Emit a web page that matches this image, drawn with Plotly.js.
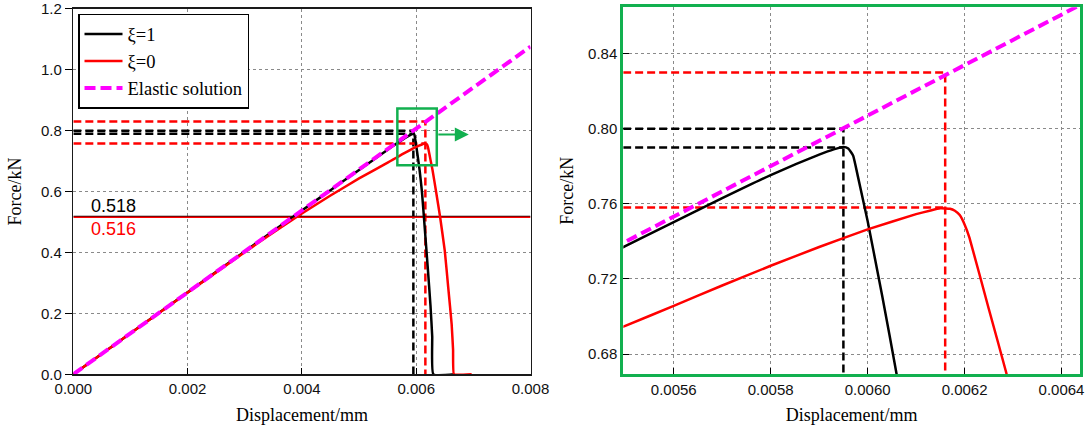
<!DOCTYPE html>
<html>
<head>
<meta charset="utf-8">
<script src="https://cdn.plot.ly/plotly-3.0.1.min.js"></script>
<style>html,body{margin:0;padding:0;background:#fff;}#chart{width:1088px;height:432px;}</style>
</head>
<body>
<div id="chart"></div>
<script>
// ---- data ----
const dispXi1 = [0, 0.001, 0.002, 0.003, 0.004, 0.0045, 0.005, 0.0055, 0.0056, 0.0057, 0.0058, 0.0059, 0.00593, 0.00595, 0.00596, 0.00597, 0.00598, 0.0060, 0.00603, 0.00606, 0.0061, 0.00615, 0.0062, 0.00625, 0.00628, 0.0063, 0.00667];
const forceXi1 = [0, 0.1345, 0.269, 0.4035, 0.538, 0.6045, 0.671, 0.7375, 0.7502, 0.763, 0.7753, 0.7862, 0.789, 0.7903, 0.7895, 0.7858, 0.7745, 0.7508, 0.711, 0.669, 0.600, 0.478, 0.355, 0.225, 0.125, 0.0, 0.0];

const dispXi0 = [0, 0.001, 0.002, 0.003, 0.0035, 0.004, 0.0045, 0.005, 0.0055, 0.0056, 0.0057, 0.0058, 0.0059, 0.0060, 0.0061, 0.00613, 0.00615, 0.00617, 0.00618, 0.00619, 0.0062, 0.00621, 0.00625, 0.006286, 0.00635, 0.006417, 0.0065, 0.00656, 0.00662, 0.006645, 0.00666, 0.00697];
const forceXi0 = [0, 0.1345, 0.2685, 0.401, 0.466, 0.528, 0.587, 0.643, 0.695, 0.7056, 0.7165, 0.727, 0.737, 0.7464, 0.7545, 0.7565, 0.7576, 0.7574, 0.7563, 0.754, 0.749, 0.742, 0.704, 0.670, 0.597, 0.518, 0.405, 0.285, 0.165, 0.08, 0.0, 0.0];

const dispElastic = [0, 0.008];
const forceElastic = [0, 1.076];

// initiation loads
const initLabels = ['0.518', '0.516'];
const initForce = [0.518, 0.516];
const initDispSpan = [0, 0.008];

// peak reference values: [displacement at peak, peak force, elastic force at that displacement]
const peakXi1 = [0.00595, 0.790, 0.800];
const peakXi0 = [0.00616, 0.758, 0.830];

// axis ticks
const leftXTicks = [0, 0.002, 0.004, 0.006, 0.008];
const leftXText = ['0.000', '0.002', '0.004', '0.006', '0.008'];
const leftYTicks = [0, 0.2, 0.4, 0.6, 0.8, 1.0, 1.2];
const leftYText = ['0.0', '0.2', '0.4', '0.6', '0.8', '1.0', '1.2'];
const rightXTicks = [0.0056, 0.0058, 0.0060, 0.0062, 0.0064];
const rightXText = ['0.0056', '0.0058', '0.0060', '0.0062', '0.0064'];
const rightYTicks = [0.68, 0.72, 0.76, 0.80, 0.84];
const rightYText = ['0.68', '0.72', '0.76', '0.80', '0.84'];

const seriesNames = ['\u03BE=1', '\u03BE=0', 'Elastic solution'];

// ---- styling ----
const SANS = 'Liberation Sans, Arial, sans-serif';
const SERIF = 'Liberation Serif, Times New Roman, serif';
const GREEN = '#12b04f';
const BLACK = '#000000';
const RED = '#ff0000';
const MAGENTA = '#ff00ff';
const refDash = '8px,4px';

function refTraces(xa, ya) {
  return [
    {x: [0, peakXi1[0], peakXi1[0]], y: [peakXi1[2], peakXi1[2], 0], xaxis: xa, yaxis: ya, mode: 'lines', line: {color: BLACK, width: 2.5, dash: refDash}, showlegend: false, hoverinfo: 'skip'},
    {x: [0, peakXi1[0]], y: [peakXi1[1], peakXi1[1]], xaxis: xa, yaxis: ya, mode: 'lines', line: {color: BLACK, width: 2.5, dash: refDash}, showlegend: false, hoverinfo: 'skip'},
    {x: [0, peakXi0[0], peakXi0[0]], y: [peakXi0[2], peakXi0[2], 0], xaxis: xa, yaxis: ya, mode: 'lines', line: {color: RED, width: 2.5, dash: refDash}, showlegend: false, hoverinfo: 'skip'},
    {x: [0, peakXi0[0]], y: [peakXi0[1], peakXi0[1]], xaxis: xa, yaxis: ya, mode: 'lines', line: {color: RED, width: 2.5, dash: refDash}, showlegend: false, hoverinfo: 'skip'}
  ];
}

function curveTraces(xa, ya, legend) {
  return [
    {x: dispXi1, y: forceXi1, xaxis: xa, yaxis: ya, mode: 'lines', name: seriesNames[0], line: {color: BLACK, width: 2.5, shape: 'spline', smoothing: 0.4}, showlegend: legend, legendgroup: 'a'},
    {x: dispXi0, y: forceXi0, xaxis: xa, yaxis: ya, mode: 'lines', name: seriesNames[1], line: {color: RED, width: 2.5, shape: 'spline', smoothing: 0.3}, showlegend: legend, legendgroup: 'b'},
    {x: dispElastic, y: forceElastic, xaxis: xa, yaxis: ya, mode: 'lines', name: seriesNames[2], line: {color: MAGENTA, width: 4, dash: '11px,5px'}, showlegend: legend, legendgroup: 'c'}
  ];
}

const initTraces = [
  {x: initDispSpan, y: [initForce[0], initForce[0]], xaxis: 'x', yaxis: 'y', mode: 'lines', line: {color: BLACK, width: 1.5}, showlegend: false, hoverinfo: 'skip'},
  {x: initDispSpan, y: [initForce[1], initForce[1]], xaxis: 'x', yaxis: 'y', mode: 'lines', line: {color: RED, width: 1.5}, showlegend: false, hoverinfo: 'skip'}
];

const data = [].concat(
  refTraces('x', 'y'),
  initTraces,
  curveTraces('x', 'y', true),
  refTraces('x2', 'y2'),
  curveTraces('x2', 'y2', false)
);

const commonAxis = {
  showgrid: true, gridcolor: '#8a8a8a', griddash: '3px,3px', gridwidth: 1,
  zeroline: false, showline: true, mirror: true,
  tickcolor: BLACK, tickfont: {family: SANS, size: 15, color: '#111'},
  tickmode: 'array'
};

const layout = {
  width: 1088, height: 432,
  margin: {l: 0, r: 0, t: 0, b: 0},
  paper_bgcolor: '#ffffff', plot_bgcolor: '#ffffff',
  showlegend: true,
  legend: {
    x: 0.0717, y: 0.9676, xanchor: 'left', yanchor: 'top',
    bgcolor: '#ffffff', bordercolor: BLACK, borderwidth: 1.5,
    font: {family: SERIF, size: 18.5, color: BLACK},
    tracegroupgap: 0, itemwidth: 38
  },
  xaxis: Object.assign({}, commonAxis, {
    domain: [0.0674, 0.4876], range: [0, 0.008], anchor: 'y',
    tickvals: leftXTicks, ticktext: leftXText,
    ticks: 'inside', ticklen: 6, linecolor: '#1a1a1a', linewidth: 1.5,
    title: {text: 'Displacement/mm', font: {family: SERIF, size: 18, color: BLACK}, standoff: 12}
  }),
  yaxis: Object.assign({}, commonAxis, {
    domain: [0.1336, 0.9796], range: [0, 1.2], anchor: 'x',
    tickvals: leftYTicks, ticktext: leftYText,
    ticks: 'outside', ticklen: 7, linecolor: '#1a1a1a', linewidth: 1.5,
    title: {text: 'Force/kN', font: {family: SERIF, size: 18, color: BLACK}, standoff: 14}
  }),
  xaxis2: Object.assign({}, commonAxis, {
    domain: [0.5729, 0.9926], range: [0.005496, 0.006438], anchor: 'y2',
    tickvals: rightXTicks, ticktext: rightXText,
    ticks: 'inside', ticklen: 6, linecolor: GREEN, linewidth: 3,
    title: {text: 'Displacement/mm', font: {family: SERIF, size: 18, color: BLACK}, standoff: 12}
  }),
  yaxis2: Object.assign({}, commonAxis, {
    domain: [0.1336, 0.9831], range: [0.6692, 0.8647], anchor: 'x2',
    tickvals: rightYTicks, ticktext: rightYText,
    ticks: 'inside', ticklen: 6, linecolor: GREEN, linewidth: 3,
    title: {text: 'Force/kN', font: {family: SERIF, size: 18, color: BLACK}, standoff: 10}
  }),
  shapes: [
    {type: 'rect', xref: 'x', yref: 'y', x0: 0.00567, x1: 0.00636, y0: 0.686, y1: 0.873, line: {color: GREEN, width: 2.5}, fillcolor: 'rgba(0,0,0,0)'}
  ],
  annotations: [
    {xref: 'x', yref: 'y', x: 0.00692, y: 0.787, axref: 'x', ayref: 'y', ax: 0.00636, ay: 0.787, showarrow: true, arrowhead: 2, arrowsize: 1.4, arrowwidth: 2, arrowcolor: GREEN, text: ''},
    {xref: 'x', yref: 'y', x: 0.0007, y: 0.554, text: initLabels[0], showarrow: false, font: {family: SANS, size: 18, color: BLACK}},
    {xref: 'x', yref: 'y', x: 0.0007, y: 0.477, text: initLabels[1], showarrow: false, font: {family: SANS, size: 18, color: RED}}
  ]
};

Plotly.newPlot('chart', data, layout, {displayModeBar: false, staticPlot: true});
</script>
</body>
</html>
